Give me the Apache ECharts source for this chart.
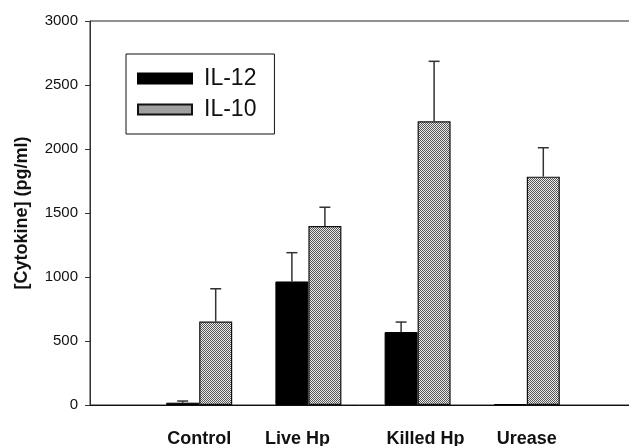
<!DOCTYPE html>
<html>
<head>
<meta charset="utf-8">
<script src="https://cdn.jsdelivr.net/npm/echarts@6/dist/echarts.min.js"></script>
<style>
html,body{margin:0;padding:0;background:#fff;}
#chart{width:629px;height:446px;}
</style>
</head>
<body>
<div id="chart"></div>
<script>
// Data
var categories = ['', 'Control', 'Live Hp', 'Killed Hp', 'Urease', ''];
var il12 = [null, 18, 965, 570, 5, null];
var il12Err = [null, 13, 225, 78, 0, null];
var il10 = [null, 652, 1398, 2216, 1784, null];
var il10Err = [null, 256, 147, 469, 226, null];
var yTicks = [0, 500, 1000, 1500, 2000, 2500, 3000];

// stipple (checker) pattern
function makePattern() {
  var c = document.createElement('canvas');
  c.width = 2; c.height = 2;
  var ctx = c.getContext('2d');
  ctx.fillStyle = '#ececec';
  ctx.fillRect(0, 0, 2, 2);
  ctx.fillStyle = '#555555';
  ctx.fillRect(0, 0, 1, 1);
  ctx.fillRect(1, 1, 1, 1);
  return c;
}
var pattern = {image: makePattern(), repeat: 'repeat'};

var BAR_W = 33;

function errRenderer(vals, errs, shift) {
  return function (params, api) {
    var i = api.value(0);
    var v = vals[i], e = errs[i];
    if (v == null || e == null || e <= 0) return null;
    var p0 = api.coord([i, v]);
    var p1 = api.coord([i, v + e]);
    var x = p0[0] + shift;
    return {
      type: 'group',
      children: [
        {type: 'line', shape: {x1: x, y1: p0[1], x2: x, y2: p1[1]}, style: {stroke: '#333', lineWidth: 1.5}},
        {type: 'line', shape: {x1: x - 5.5, y1: p1[1], x2: x + 5.5, y2: p1[1]}, style: {stroke: '#333', lineWidth: 1.5}}
      ]
    };
  };
}

var idx = categories.map(function (c, i) { return [i]; });

var chart = echarts.init(document.getElementById('chart'), null, {renderer: 'canvas'});
chart.setOption({
  animation: false,
  backgroundColor: '#fff',
  grid: {left: 90, top: 21, bottom: 41, right: -7, outerBoundsMode: 'none', containLabel: false,
    show: true, borderColor: '#222', borderWidth: 1, backgroundColor: 'transparent'},
  legend: {
    data: ['IL-12', 'IL-10'],
    orient: 'vertical',
    left: 126, top: 54,
    padding: [13, 18, 13, 11],
    backgroundColor: '#fff',
    borderColor: '#111', borderWidth: 1,
    itemWidth: 54, itemHeight: 10, itemGap: 8,
    icon: 'rect',
    textStyle: {fontFamily: 'Liberation Sans, Arial, sans-serif', fontSize: 23, lineHeight: 22, color: '#111', padding: [0, 0, 0, 7]}
  },
  xAxis: {
    type: 'category',
    data: categories,
    boundaryGap: false,
    axisLine: {lineStyle: {color: '#111', width: 1}},
    axisTick: {show: false},
    axisLabel: {
      interval: 0,
      margin: 25,
      fontFamily: 'Liberation Sans, Arial, sans-serif',
      fontSize: 18, fontWeight: 'bold', color: '#111',
      formatter: function (v) {
        if (v === 'Live Hp') return '{l|' + v + '}';
        if (v === 'Killed Hp') return '{r|' + v + '}';
        return v;
      },
      rich: {
        l: {fontFamily: 'Liberation Sans, Arial, sans-serif', fontSize: 18, fontWeight: 'bold', color: '#111', padding: [0, 22, 0, 0]},
        r: {fontFamily: 'Liberation Sans, Arial, sans-serif', fontSize: 18, fontWeight: 'bold', color: '#111', padding: [0, 0, 0, 16]}
      }
    },
    splitLine: {show: false}
  },
  yAxis: {
    type: 'value',
    min: yTicks[0], max: yTicks[yTicks.length - 1], interval: 500,
    name: '[Cytokine] (pg/ml)',
    nameLocation: 'middle',
    nameGap: 59,
    nameTextStyle: {fontFamily: 'Liberation Sans, Arial, sans-serif', fontSize: 18, fontWeight: 'bold', color: '#111'},
    axisLine: {show: true, lineStyle: {color: '#333', width: 1}},
    axisTick: {show: true, length: 5, lineStyle: {color: '#333'}},
    axisLabel: {margin: 12, fontFamily: 'Liberation Sans, Arial, sans-serif', fontSize: 15, color: '#111',
      formatter: function (v) { return String(v); }},
    splitLine: {show: false}
  },
  series: [
    {
      name: 'IL-12', type: 'bar', data: il12, barWidth: BAR_W, barGap: '0%',
      itemStyle: {color: '#000', borderColor: '#000', borderWidth: 1}
    },
    {
      name: 'IL-10', type: 'bar', data: il10, barWidth: BAR_W, barGap: '0%',
      itemStyle: {color: pattern, borderColor: '#111', borderWidth: 1.2}
    },
    {
      name: 'err12', type: 'custom', data: idx, renderItem: errRenderer(il12, il12Err, -BAR_W / 2), z: 1
    },
    {
      name: 'err10', type: 'custom', data: idx, renderItem: errRenderer(il10, il10Err, BAR_W / 2), z: 1
    }
  ]
});
</script>
</body>
</html>
